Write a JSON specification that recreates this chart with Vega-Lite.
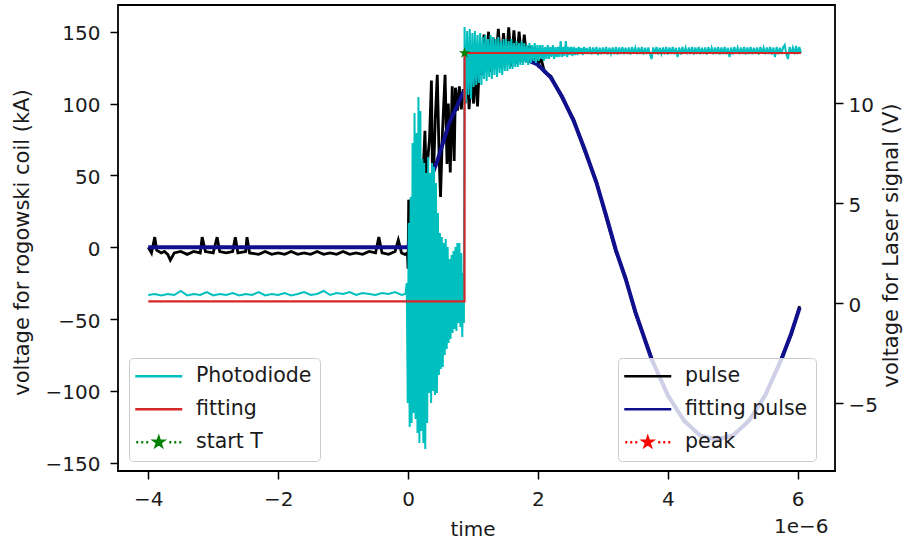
{
  "$schema": "https://vega.github.io/schema/vega-lite/v6.json",
  "width": 717,
  "height": 466,
  "autosize": {"type": "none"},
  "padding": {"left": 118, "top": 5, "right": 74, "bottom": 70},
  "background": "white",
  "config": {
    "font": "DejaVu Sans",
    "view": {"stroke": "#000000", "strokeWidth": 1.8},
    "axis": {"grid": false, "domain": false, "tickColor": "#000000", "tickWidth": 1.5, "tickSize": 8, "labelFontSize": 20, "labelColor": "#1a1a1a", "labelFont": "DejaVu Sans", "titleFont": "DejaVu Sans", "titleFontSize": 21, "titleFontWeight": "normal", "titleColor": "#1a1a1a", "labelOverlap": false, "labelFlush": false, "labelBound": false},
    "legend": {"orient": "none", "padding": 8, "rowPadding": 12, "symbolOffset": 11.5, "labelOffset": 27, "fillColor": "rgba(255,255,255,0.8)", "strokeColor": "#cccccc", "cornerRadius": 4, "labelFontSize": 20.5, "labelFont": "DejaVu Sans", "labelColor": "#1a1a1a", "symbolSize": 100, "symbolStrokeWidth": 2.5, "symbolOpacity": 1, "labelLimit": 300}
  },
  "datasets": {
    "pu": [
      {"t":-4.0,"v":0,"s":"pulse"},{"t":-3.95,"v":-4,"s":"pulse"},{"t":-3.9,"v":7,"s":"pulse"},{"t":-3.87,"v":-2,"s":"pulse"},{"t":-3.8,"v":-4,"s":"pulse"},{"t":-3.75,"v":-3,"s":"pulse"},{"t":-3.7,"v":-5,"s":"pulse"},{"t":-3.66,"v":-9,"s":"pulse"},{"t":-3.6,"v":-4,"s":"pulse"},{"t":-3.5,"v":-3,"s":"pulse"},{"t":-3.4,"v":-5,"s":"pulse"},{"t":-3.3,"v":-3,"s":"pulse"},{"t":-3.2,"v":-4,"s":"pulse"},{"t":-3.17,"v":7,"s":"pulse"},{"t":-3.12,"v":-3,"s":"pulse"},{"t":-3.0,"v":-4,"s":"pulse"},{"t":-2.94,"v":7,"s":"pulse"},{"t":-2.9,"v":-3,"s":"pulse"},{"t":-2.8,"v":-4,"s":"pulse"},{"t":-2.7,"v":-3,"s":"pulse"},{"t":-2.66,"v":7,"s":"pulse"},{"t":-2.62,"v":-4,"s":"pulse"},{"t":-2.5,"v":-3,"s":"pulse"},{"t":-2.48,"v":7,"s":"pulse"},{"t":-2.44,"v":-4,"s":"pulse"},{"t":-2.3,"v":-5,"s":"pulse"},{"t":-2.2,"v":-3,"s":"pulse"},{"t":-2.1,"v":-5,"s":"pulse"},{"t":-2.0,"v":-4,"s":"pulse"},{"t":-1.9,"v":-5,"s":"pulse"},{"t":-1.8,"v":-3,"s":"pulse"},{"t":-1.7,"v":-5,"s":"pulse"},{"t":-1.6,"v":-4,"s":"pulse"},{"t":-1.5,"v":-5,"s":"pulse"},{"t":-1.4,"v":-3,"s":"pulse"},{"t":-1.3,"v":-5,"s":"pulse"},{"t":-1.2,"v":-4,"s":"pulse"},{"t":-1.1,"v":-5,"s":"pulse"},{"t":-1.0,"v":-3,"s":"pulse"},{"t":-0.9,"v":-5,"s":"pulse"},{"t":-0.8,"v":-4,"s":"pulse"},{"t":-0.7,"v":-5,"s":"pulse"},{"t":-0.6,"v":-3,"s":"pulse"},{"t":-0.5,"v":-4,"s":"pulse"},{"t":-0.45,"v":7,"s":"pulse"},{"t":-0.4,"v":-4,"s":"pulse"},{"t":-0.3,"v":-5,"s":"pulse"},{"t":-0.2,"v":-3,"s":"pulse"},{"t":-0.15,"v":5,"s":"pulse"},{"t":-0.1,"v":-4,"s":"pulse"},{"t":-0.05,"v":-5,"s":"pulse"},{"t":-0.01,"v":-4,"s":"pulse"},
      {"t":0.0,"v":-15,"s":"pulse"},{"t":0.01,"v":33,"s":"pulse"},{"t":0.03,"v":30,"s":"pulse"},{"t":0.06,"v":25,"s":"pulse"},{"t":0.1,"v":45,"s":"pulse"},{"t":0.14,"v":30,"s":"pulse"},{"t":0.18,"v":60,"s":"pulse"},{"t":0.22,"v":40,"s":"pulse"},{"t":0.26,"v":81,"s":"pulse"},{"t":0.28,"v":49,"s":"pulse"},{"t":0.33,"v":75,"s":"pulse"},{"t":0.36,"v":116,"s":"pulse"},{"t":0.38,"v":33,"s":"pulse"},{"t":0.42,"v":90,"s":"pulse"},{"t":0.45,"v":120,"s":"pulse"},{"t":0.48,"v":60,"s":"pulse"},{"t":0.5,"v":35,"s":"pulse"},{"t":0.53,"v":80,"s":"pulse"},{"t":0.57,"v":120,"s":"pulse"},{"t":0.6,"v":58,"s":"pulse"},{"t":0.62,"v":100,"s":"pulse"},{"t":0.65,"v":52,"s":"pulse"},{"t":0.68,"v":112,"s":"pulse"},{"t":0.71,"v":60,"s":"pulse"},{"t":0.73,"v":111,"s":"pulse"},{"t":0.76,"v":95,"s":"pulse"},{"t":0.79,"v":112,"s":"pulse"},{"t":0.82,"v":96,"s":"pulse"},{"t":0.85,"v":110,"s":"pulse"},{"t":0.88,"v":100,"s":"pulse"},{"t":0.91,"v":124,"s":"pulse"},{"t":0.94,"v":96,"s":"pulse"},{"t":0.97,"v":120,"s":"pulse"},{"t":1.01,"v":100,"s":"pulse"},{"t":1.04,"v":126,"s":"pulse"},{"t":1.07,"v":98,"s":"pulse"},{"t":1.1,"v":130,"s":"pulse"},{"t":1.13,"v":120,"s":"pulse"},{"t":1.17,"v":148,"s":"pulse"},{"t":1.2,"v":125,"s":"pulse"},{"t":1.24,"v":150,"s":"pulse"},{"t":1.27,"v":122,"s":"pulse"},{"t":1.31,"v":146,"s":"pulse"},{"t":1.35,"v":128,"s":"pulse"},{"t":1.39,"v":152,"s":"pulse"},{"t":1.43,"v":125,"s":"pulse"},{"t":1.47,"v":149,"s":"pulse"},{"t":1.51,"v":127,"s":"pulse"},{"t":1.55,"v":153,"s":"pulse"},{"t":1.59,"v":126,"s":"pulse"},{"t":1.63,"v":151,"s":"pulse"},{"t":1.67,"v":128,"s":"pulse"},{"t":1.71,"v":150,"s":"pulse"},{"t":1.75,"v":129,"s":"pulse"},{"t":1.79,"v":148,"s":"pulse"},{"t":1.83,"v":130,"s":"pulse"},{"t":1.87,"v":140,"s":"pulse"},{"t":1.91,"v":128,"s":"pulse"},{"t":1.95,"v":134,"s":"pulse"},{"t":2.0,"v":127,"s":"pulse"},{"t":2.05,"v":131,"s":"pulse"},{"t":2.1,"v":122,"s":"pulse"},
      {"t":2.2,"v":119,"s":"pulse"},{"t":2.37,"v":104,"s":"pulse"},{"t":2.55,"v":89,"s":"pulse"},{"t":2.72,"v":67,"s":"pulse"},{"t":2.9,"v":46,"s":"pulse"},{"t":3.05,"v":21,"s":"pulse"},{"t":3.2,"v":-3,"s":"pulse"},{"t":3.35,"v":-21,"s":"pulse"},{"t":3.5,"v":-46,"s":"pulse"},{"t":3.75,"v":-77,"s":"pulse"},{"t":4.0,"v":-104,"s":"pulse"},{"t":4.25,"v":-120,"s":"pulse"},{"t":4.5,"v":-132,"s":"pulse"},{"t":4.75,"v":-133,"s":"pulse"},{"t":5.0,"v":-132,"s":"pulse"},{"t":5.25,"v":-120,"s":"pulse"},{"t":5.5,"v":-104,"s":"pulse"},{"t":5.75,"v":-77,"s":"pulse"},{"t":5.9,"v":-61,"s":"pulse"},{"t":6.03,"v":-41,"s":"pulse"}
    ],
    "fp": [
      {"t":-4,"v":0,"s":"fitting pulse"},{"t":0,"v":0,"s":"fitting pulse"},{"t":0.1,"v":15,"s":"fitting pulse"},{"t":0.2,"v":29,"s":"fitting pulse"},{"t":0.3,"v":42,"s":"fitting pulse"},{"t":0.45,"v":60,"s":"fitting pulse"},{"t":0.63,"v":86,"s":"fitting pulse"},{"t":0.83,"v":106,"s":"fitting pulse"},{"t":1.0,"v":117,"s":"fitting pulse"},{"t":1.2,"v":125,"s":"fitting pulse"},{"t":1.4,"v":130,"s":"fitting pulse"},{"t":1.6,"v":132,"s":"fitting pulse"},{"t":1.8,"v":131,"s":"fitting pulse"},{"t":2.0,"v":127,"s":"fitting pulse"},{"t":2.2,"v":118,"s":"fitting pulse"},{"t":2.37,"v":105,"s":"fitting pulse"},{"t":2.55,"v":88,"s":"fitting pulse"},{"t":2.72,"v":68,"s":"fitting pulse"},{"t":2.9,"v":45,"s":"fitting pulse"},{"t":3.05,"v":22,"s":"fitting pulse"},{"t":3.2,"v":-2,"s":"fitting pulse"},{"t":3.35,"v":-22,"s":"fitting pulse"},{"t":3.5,"v":-45,"s":"fitting pulse"},{"t":3.75,"v":-78,"s":"fitting pulse"},{"t":4.0,"v":-103,"s":"fitting pulse"},{"t":4.25,"v":-121,"s":"fitting pulse"},{"t":4.5,"v":-131,"s":"fitting pulse"},{"t":4.75,"v":-134,"s":"fitting pulse"},{"t":5.0,"v":-131,"s":"fitting pulse"},{"t":5.25,"v":-121,"s":"fitting pulse"},{"t":5.5,"v":-103,"s":"fitting pulse"},{"t":5.75,"v":-78,"s":"fitting pulse"},{"t":5.9,"v":-60,"s":"fitting pulse"},{"t":6.03,"v":-42,"s":"fitting pulse"}
    ],
    "pk": [{"t":1.6,"v":132,"s":"peak"}],
    "pd": [
      {"t":-4.0,"v":0.4,"s":"Photodiode"},{"t":-3.9,"v":0.45,"s":"Photodiode"},{"t":-3.8,"v":0.38,"s":"Photodiode"},{"t":-3.7,"v":0.45,"s":"Photodiode"},{"t":-3.6,"v":0.4,"s":"Photodiode"},{"t":-3.5,"v":0.6,"s":"Photodiode"},{"t":-3.4,"v":0.38,"s":"Photodiode"},{"t":-3.3,"v":0.45,"s":"Photodiode"},{"t":-3.2,"v":0.4,"s":"Photodiode"},{"t":-3.1,"v":0.55,"s":"Photodiode"},{"t":-3.0,"v":0.38,"s":"Photodiode"},{"t":-2.9,"v":0.45,"s":"Photodiode"},{"t":-2.8,"v":0.4,"s":"Photodiode"},{"t":-2.7,"v":0.5,"s":"Photodiode"},{"t":-2.6,"v":0.38,"s":"Photodiode"},{"t":-2.5,"v":0.45,"s":"Photodiode"},{"t":-2.4,"v":0.4,"s":"Photodiode"},{"t":-2.3,"v":0.55,"s":"Photodiode"},{"t":-2.2,"v":0.38,"s":"Photodiode"},{"t":-2.1,"v":0.45,"s":"Photodiode"},{"t":-2.0,"v":0.4,"s":"Photodiode"},{"t":-1.9,"v":0.5,"s":"Photodiode"},{"t":-1.8,"v":0.38,"s":"Photodiode"},{"t":-1.7,"v":0.45,"s":"Photodiode"},{"t":-1.6,"v":0.55,"s":"Photodiode"},{"t":-1.5,"v":0.4,"s":"Photodiode"},{"t":-1.4,"v":0.45,"s":"Photodiode"},{"t":-1.3,"v":0.6,"s":"Photodiode"},{"t":-1.2,"v":0.4,"s":"Photodiode"},{"t":-1.1,"v":0.5,"s":"Photodiode"},{"t":-1.0,"v":0.45,"s":"Photodiode"},{"t":-0.9,"v":0.55,"s":"Photodiode"},{"t":-0.8,"v":0.4,"s":"Photodiode"},{"t":-0.7,"v":0.5,"s":"Photodiode"},{"t":-0.6,"v":0.45,"s":"Photodiode"},{"t":-0.5,"v":0.4,"s":"Photodiode"},{"t":-0.4,"v":0.5,"s":"Photodiode"},{"t":-0.3,"v":0.45,"s":"Photodiode"},{"t":-0.2,"v":0.55,"s":"Photodiode"},{"t":-0.1,"v":0.4,"s":"Photodiode"},{"t":-0.04,"v":0.45,"s":"Photodiode"},
      {"t":-0.02,"v":1.0,"s":"Photodiode"},{"t":-0.005,"v":-5.0,"s":"Photodiode"},{"t":0.01,"v":4.0,"s":"Photodiode"},{"t":0.025,"v":-6.2,"s":"Photodiode"},{"t":0.04,"v":5.3,"s":"Photodiode"},{"t":0.055,"v":-6.0,"s":"Photodiode"},{"t":0.07,"v":8.0,"s":"Photodiode"},{"t":0.085,"v":-5.5,"s":"Photodiode"},{"t":0.1,"v":9.5,"s":"Photodiode"},{"t":0.115,"v":-5.8,"s":"Photodiode"},{"t":0.13,"v":8.5,"s":"Photodiode"},{"t":0.145,"v":-6.5,"s":"Photodiode"},{"t":0.16,"v":10.3,"s":"Photodiode"},{"t":0.175,"v":-7.0,"s":"Photodiode"},{"t":0.19,"v":9.6,"s":"Photodiode"},{"t":0.205,"v":-6.4,"s":"Photodiode"},{"t":0.22,"v":7.2,"s":"Photodiode"},{"t":0.235,"v":-7.0,"s":"Photodiode"},{"t":0.25,"v":7.0,"s":"Photodiode"},{"t":0.265,"v":-7.3,"s":"Photodiode"},{"t":0.28,"v":6.5,"s":"Photodiode"},{"t":0.295,"v":-6.0,"s":"Photodiode"},{"t":0.31,"v":7.3,"s":"Photodiode"},{"t":0.325,"v":-4.5,"s":"Photodiode"},{"t":0.34,"v":6.5,"s":"Photodiode"},{"t":0.355,"v":-5.0,"s":"Photodiode"},{"t":0.37,"v":7.0,"s":"Photodiode"},{"t":0.385,"v":-4.4,"s":"Photodiode"},{"t":0.4,"v":6.8,"s":"Photodiode"},{"t":0.415,"v":-4.6,"s":"Photodiode"},{"t":0.43,"v":6.0,"s":"Photodiode"},{"t":0.445,"v":-4.5,"s":"Photodiode"},{"t":0.46,"v":4.5,"s":"Photodiode"},{"t":0.475,"v":-3.6,"s":"Photodiode"},{"t":0.49,"v":3.5,"s":"Photodiode"},{"t":0.505,"v":-3.3,"s":"Photodiode"},{"t":0.52,"v":3.3,"s":"Photodiode"},{"t":0.535,"v":-3.2,"s":"Photodiode"},{"t":0.55,"v":3.0,"s":"Photodiode"},{"t":0.565,"v":-2.6,"s":"Photodiode"},{"t":0.58,"v":3.2,"s":"Photodiode"},{"t":0.595,"v":-2.3,"s":"Photodiode"},{"t":0.61,"v":2.8,"s":"Photodiode"},{"t":0.625,"v":-2.0,"s":"Photodiode"},{"t":0.64,"v":2.2,"s":"Photodiode"},{"t":0.655,"v":-1.8,"s":"Photodiode"},{"t":0.67,"v":2.4,"s":"Photodiode"},{"t":0.685,"v":-1.5,"s":"Photodiode"},{"t":0.7,"v":2.6,"s":"Photodiode"},{"t":0.715,"v":-1.3,"s":"Photodiode"},{"t":0.73,"v":2.8,"s":"Photodiode"},{"t":0.745,"v":-1.4,"s":"Photodiode"},{"t":0.76,"v":3.0,"s":"Photodiode"},{"t":0.775,"v":-1.0,"s":"Photodiode"},{"t":0.79,"v":3.0,"s":"Photodiode"},{"t":0.805,"v":-1.2,"s":"Photodiode"},{"t":0.82,"v":2.5,"s":"Photodiode"},{"t":0.835,"v":-1.7,"s":"Photodiode"},{"t":0.85,"v":1.5,"s":"Photodiode"},{"t":0.86,"v":-1.0,"s":"Photodiode"},
      {"t":0.87,"v":13.8,"s":"Photodiode"},{"t":0.89,"v":10.0,"s":"Photodiode"},{"t":0.91,"v":13.6,"s":"Photodiode"},{"t":0.93,"v":10.4,"s":"Photodiode"},{"t":0.95,"v":13.7,"s":"Photodiode"},{"t":0.97,"v":10.2,"s":"Photodiode"},{"t":0.99,"v":13.5,"s":"Photodiode"},{"t":1.01,"v":10.8,"s":"Photodiode"},{"t":1.03,"v":13.6,"s":"Photodiode"},{"t":1.05,"v":10.9,"s":"Photodiode"},{"t":1.07,"v":13.4,"s":"Photodiode"},{"t":1.09,"v":11.0,"s":"Photodiode"},{"t":1.11,"v":13.5,"s":"Photodiode"},{"t":1.13,"v":10.9,"s":"Photodiode"},{"t":1.15,"v":13.3,"s":"Photodiode"},{"t":1.17,"v":11.2,"s":"Photodiode"},{"t":1.19,"v":13.4,"s":"Photodiode"},{"t":1.21,"v":11.1,"s":"Photodiode"},{"t":1.23,"v":13.2,"s":"Photodiode"},{"t":1.25,"v":11.3,"s":"Photodiode"},{"t":1.27,"v":13.4,"s":"Photodiode"},{"t":1.29,"v":11.2,"s":"Photodiode"},{"t":1.31,"v":13.3,"s":"Photodiode"},{"t":1.33,"v":11.4,"s":"Photodiode"},{"t":1.35,"v":13.2,"s":"Photodiode"},{"t":1.37,"v":11.3,"s":"Photodiode"},{"t":1.39,"v":13.3,"s":"Photodiode"},{"t":1.41,"v":11.5,"s":"Photodiode"},{"t":1.43,"v":13.1,"s":"Photodiode"},{"t":1.45,"v":11.4,"s":"Photodiode"},{"t":1.47,"v":13.2,"s":"Photodiode"},{"t":1.49,"v":11.6,"s":"Photodiode"},{"t":1.51,"v":13.2,"s":"Photodiode"},{"t":1.53,"v":11.6,"s":"Photodiode"},{"t":1.55,"v":13.1,"s":"Photodiode"},{"t":1.57,"v":11.7,"s":"Photodiode"},{"t":1.59,"v":13.2,"s":"Photodiode"},{"t":1.61,"v":11.7,"s":"Photodiode"},{"t":1.63,"v":13.0,"s":"Photodiode"},{"t":1.65,"v":11.8,"s":"Photodiode"},{"t":1.67,"v":13.1,"s":"Photodiode"},{"t":1.69,"v":11.8,"s":"Photodiode"},{"t":1.71,"v":13.0,"s":"Photodiode"},{"t":1.73,"v":11.9,"s":"Photodiode"},{"t":1.75,"v":13.1,"s":"Photodiode"},{"t":1.77,"v":11.9,"s":"Photodiode"},{"t":1.79,"v":13.0,"s":"Photodiode"},{"t":1.81,"v":12.0,"s":"Photodiode"},{"t":1.83,"v":12.9,"s":"Photodiode"},{"t":1.85,"v":11.9,"s":"Photodiode"},{"t":1.87,"v":13.0,"s":"Photodiode"},{"t":1.89,"v":12.0,"s":"Photodiode"},{"t":1.91,"v":12.9,"s":"Photodiode"},{"t":1.93,"v":12.1,"s":"Photodiode"},{"t":1.95,"v":13.0,"s":"Photodiode"},{"t":1.97,"v":12.0,"s":"Photodiode"},{"t":1.99,"v":12.9,"s":"Photodiode"},{"t":2.01,"v":12.1,"s":"Photodiode"},{"t":2.03,"v":12.9,"s":"Photodiode"},{"t":2.05,"v":12.2,"s":"Photodiode"},{"t":2.07,"v":12.9,"s":"Photodiode"},{"t":2.09,"v":12.1,"s":"Photodiode"},{"t":2.11,"v":12.8,"s":"Photodiode"},{"t":2.13,"v":12.2,"s":"Photodiode"},{"t":2.15,"v":12.9,"s":"Photodiode"},{"t":2.17,"v":12.2,"s":"Photodiode"},{"t":2.19,"v":12.8,"s":"Photodiode"},{"t":2.21,"v":12.3,"s":"Photodiode"},{"t":2.23,"v":12.9,"s":"Photodiode"},{"t":2.25,"v":12.2,"s":"Photodiode"},{"t":2.27,"v":12.8,"s":"Photodiode"},{"t":2.29,"v":12.3,"s":"Photodiode"},{"t":2.31,"v":12.8,"s":"Photodiode"},{"t":2.33,"v":12.3,"s":"Photodiode"},{"t":2.35,"v":13.1,"s":"Photodiode"},{"t":2.37,"v":12.3,"s":"Photodiode"},{"t":2.39,"v":12.8,"s":"Photodiode"},{"t":2.41,"v":12.35,"s":"Photodiode"},{"t":2.43,"v":13.1,"s":"Photodiode"},{"t":2.45,"v":12.3,"s":"Photodiode"},{"t":2.47,"v":12.8,"s":"Photodiode"},{"t":2.49,"v":12.4,"s":"Photodiode"},{"t":2.51,"v":12.8,"s":"Photodiode"},{"t":2.53,"v":12.35,"s":"Photodiode"},{"t":2.55,"v":12.8,"s":"Photodiode"},{"t":2.57,"v":12.4,"s":"Photodiode"},{"t":2.59,"v":12.75,"s":"Photodiode"},{"t":2.61,"v":12.4,"s":"Photodiode"},{"t":2.63,"v":12.8,"s":"Photodiode"},{"t":2.65,"v":12.45,"s":"Photodiode"},{"t":2.67,"v":12.75,"s":"Photodiode"},{"t":2.69,"v":12.4,"s":"Photodiode"},{"t":2.71,"v":12.8,"s":"Photodiode"},{"t":2.73,"v":12.45,"s":"Photodiode"},{"t":2.75,"v":12.75,"s":"Photodiode"},{"t":2.77,"v":12.45,"s":"Photodiode"},
      {"t":2.8,"v":12.8,"s":"Photodiode"},{"t":2.825,"v":12.42,"s":"Photodiode"},{"t":2.85,"v":12.78,"s":"Photodiode"},{"t":2.875,"v":12.45,"s":"Photodiode"},{"t":2.9,"v":12.8,"s":"Photodiode"},{"t":2.925,"v":12.4,"s":"Photodiode"},{"t":2.95,"v":12.76,"s":"Photodiode"},{"t":2.975,"v":12.44,"s":"Photodiode"},{"t":3.0,"v":12.78,"s":"Photodiode"},{"t":3.025,"v":12.45,"s":"Photodiode"},{"t":3.05,"v":12.8,"s":"Photodiode"},{"t":3.075,"v":12.42,"s":"Photodiode"},{"t":3.1,"v":12.76,"s":"Photodiode"},{"t":3.125,"v":12.46,"s":"Photodiode"},{"t":3.15,"v":12.78,"s":"Photodiode"},{"t":3.175,"v":12.44,"s":"Photodiode"},{"t":3.2,"v":12.8,"s":"Photodiode"},{"t":3.225,"v":12.42,"s":"Photodiode"},{"t":3.25,"v":12.77,"s":"Photodiode"},{"t":3.275,"v":12.45,"s":"Photodiode"},{"t":3.3,"v":12.8,"s":"Photodiode"},{"t":3.325,"v":12.44,"s":"Photodiode"},{"t":3.35,"v":12.76,"s":"Photodiode"},{"t":3.375,"v":12.45,"s":"Photodiode"},{"t":3.4,"v":12.78,"s":"Photodiode"},{"t":3.425,"v":12.42,"s":"Photodiode"},{"t":3.45,"v":12.8,"s":"Photodiode"},{"t":3.475,"v":12.46,"s":"Photodiode"},{"t":3.5,"v":12.76,"s":"Photodiode"},{"t":3.525,"v":12.44,"s":"Photodiode"},{"t":3.55,"v":12.78,"s":"Photodiode"},{"t":3.575,"v":12.45,"s":"Photodiode"},{"t":3.6,"v":12.8,"s":"Photodiode"},{"t":3.625,"v":12.42,"s":"Photodiode"},{"t":3.65,"v":12.76,"s":"Photodiode"},{"t":3.675,"v":12.45,"s":"Photodiode"},{"t":3.7,"v":12.78,"s":"Photodiode"},{"t":3.725,"v":12.44,"s":"Photodiode"},{"t":3.75,"v":12.2,"s":"Photodiode"},{"t":3.775,"v":12.78,"s":"Photodiode"},{"t":3.8,"v":12.45,"s":"Photodiode"},{"t":3.825,"v":12.8,"s":"Photodiode"},{"t":3.85,"v":12.42,"s":"Photodiode"},{"t":3.875,"v":12.76,"s":"Photodiode"},{"t":3.9,"v":12.46,"s":"Photodiode"},{"t":3.925,"v":12.78,"s":"Photodiode"},{"t":3.95,"v":12.44,"s":"Photodiode"},{"t":3.975,"v":12.8,"s":"Photodiode"},{"t":4.0,"v":12.42,"s":"Photodiode"},{"t":4.025,"v":12.77,"s":"Photodiode"},{"t":4.05,"v":12.45,"s":"Photodiode"},{"t":4.075,"v":12.8,"s":"Photodiode"},{"t":4.1,"v":12.44,"s":"Photodiode"},{"t":4.125,"v":12.76,"s":"Photodiode"},{"t":4.15,"v":12.3,"s":"Photodiode"},{"t":4.175,"v":12.78,"s":"Photodiode"},{"t":4.2,"v":12.42,"s":"Photodiode"},{"t":4.225,"v":12.8,"s":"Photodiode"},{"t":4.25,"v":12.46,"s":"Photodiode"},{"t":4.275,"v":12.76,"s":"Photodiode"},{"t":4.3,"v":12.44,"s":"Photodiode"},{"t":4.325,"v":12.78,"s":"Photodiode"},{"t":4.35,"v":12.45,"s":"Photodiode"},{"t":4.375,"v":12.8,"s":"Photodiode"},{"t":4.4,"v":12.42,"s":"Photodiode"},{"t":4.425,"v":12.77,"s":"Photodiode"},{"t":4.45,"v":12.45,"s":"Photodiode"},{"t":4.475,"v":12.8,"s":"Photodiode"},{"t":4.5,"v":12.44,"s":"Photodiode"},{"t":4.525,"v":12.76,"s":"Photodiode"},{"t":4.55,"v":12.45,"s":"Photodiode"},{"t":4.575,"v":12.78,"s":"Photodiode"},{"t":4.6,"v":12.42,"s":"Photodiode"},{"t":4.625,"v":12.8,"s":"Photodiode"},{"t":4.65,"v":12.46,"s":"Photodiode"},{"t":4.675,"v":12.76,"s":"Photodiode"},{"t":4.7,"v":12.44,"s":"Photodiode"},{"t":4.725,"v":12.78,"s":"Photodiode"},{"t":4.75,"v":12.45,"s":"Photodiode"},{"t":4.775,"v":12.8,"s":"Photodiode"},{"t":4.8,"v":12.42,"s":"Photodiode"},{"t":4.825,"v":12.77,"s":"Photodiode"},{"t":4.85,"v":12.45,"s":"Photodiode"},{"t":4.875,"v":12.8,"s":"Photodiode"},{"t":4.9,"v":12.44,"s":"Photodiode"},{"t":4.925,"v":12.76,"s":"Photodiode"},{"t":4.95,"v":12.3,"s":"Photodiode"},{"t":4.975,"v":12.78,"s":"Photodiode"},{"t":5.0,"v":12.42,"s":"Photodiode"},{"t":5.025,"v":12.8,"s":"Photodiode"},{"t":5.05,"v":12.46,"s":"Photodiode"},{"t":5.075,"v":12.76,"s":"Photodiode"},{"t":5.1,"v":12.44,"s":"Photodiode"},{"t":5.125,"v":12.78,"s":"Photodiode"},{"t":5.15,"v":12.45,"s":"Photodiode"},{"t":5.175,"v":12.8,"s":"Photodiode"},{"t":5.2,"v":12.42,"s":"Photodiode"},{"t":5.225,"v":12.77,"s":"Photodiode"},{"t":5.25,"v":12.45,"s":"Photodiode"},{"t":5.275,"v":12.8,"s":"Photodiode"},{"t":5.3,"v":12.44,"s":"Photodiode"},{"t":5.325,"v":12.76,"s":"Photodiode"},{"t":5.35,"v":12.45,"s":"Photodiode"},{"t":5.375,"v":12.78,"s":"Photodiode"},{"t":5.4,"v":12.42,"s":"Photodiode"},{"t":5.425,"v":12.8,"s":"Photodiode"},{"t":5.45,"v":12.46,"s":"Photodiode"},{"t":5.475,"v":12.76,"s":"Photodiode"},{"t":5.5,"v":12.44,"s":"Photodiode"},{"t":5.525,"v":12.78,"s":"Photodiode"},{"t":5.55,"v":12.45,"s":"Photodiode"},{"t":5.575,"v":12.8,"s":"Photodiode"},{"t":5.6,"v":12.42,"s":"Photodiode"},{"t":5.625,"v":12.77,"s":"Photodiode"},{"t":5.65,"v":12.3,"s":"Photodiode"},{"t":5.675,"v":12.8,"s":"Photodiode"},{"t":5.7,"v":12.44,"s":"Photodiode"},{"t":5.725,"v":12.76,"s":"Photodiode"},{"t":5.75,"v":12.45,"s":"Photodiode"},{"t":5.775,"v":12.78,"s":"Photodiode"},{"t":5.8,"v":12.9,"s":"Photodiode"},{"t":5.825,"v":12.42,"s":"Photodiode"},{"t":5.85,"v":12.2,"s":"Photodiode"},{"t":5.875,"v":12.8,"s":"Photodiode"},{"t":5.9,"v":12.46,"s":"Photodiode"},{"t":5.925,"v":12.76,"s":"Photodiode"},{"t":5.95,"v":12.44,"s":"Photodiode"},{"t":5.975,"v":12.85,"s":"Photodiode"},{"t":6.0,"v":12.45,"s":"Photodiode"},{"t":6.025,"v":12.8,"s":"Photodiode"},{"t":6.05,"v":12.5,"s":"Photodiode"}
    ],
    "fi": [
      {"t":-4,"v":0.08,"s":"fitting"},{"t":0.869,"v":0.08,"s":"fitting"},{"t":0.871,"v":12.5,"s":"fitting"},{"t":6.05,"v":12.5,"s":"fitting"}
    ],
    "st": [{"t":0.87,"v":12.5,"s":"start T"}]
  },
  "layer": [
    {
      "encoding": {
        "x": {"field": "t", "type": "quantitative", "scale": {"domain": [-4.466, 6.574], "nice": false, "zero": false},
              "axis": {"orient": "bottom", "values": [-4, -2, 0, 2, 4, 6], "format": "d", "labelPadding": 10, "title": "time", "titleFontSize": 20, "titleX": 354.5, "titleY": 64, "titleAlign": "center", "titleBaseline": "alphabetic", "titleAngle": 0}},
        "y": {"field": "v", "type": "quantitative", "scale": {"domain": [-155.8, 168.6], "nice": false, "zero": false},
              "axis": {"orient": "left", "values": [-150, -100, -50, 0, 50, 100, 150], "format": "d", "labelPadding": 10, "labelOffset": 2, "title": "voltage for rogowski coil (kA)", "titleAngle": 270, "titleX": -90, "titleY": 237, "titleAlign": "center", "titleBaseline": "alphabetic"}},
        "color": {"field": "s", "type": "nominal",
                  "scale": {"domain": ["pulse", "fitting pulse", "peak"], "range": ["#000000", "#10108e", "#ff0000"]},
                  "legend": {"title": null, "legendX": 500, "legendY": 353}}
      },
      "layer": [
        {"data": {"name": "pu"}, "mark": {"type": "line", "strokeWidth": 2.8}},
        {"data": {"name": "fp"}, "mark": {"type": "line", "strokeWidth": 4}},
        {"data": {"name": "pk"}, "mark": {"type": "point", "filled": true, "opacity": 1, "size": 140, "shape": "M0,-1L0.225,-0.309L0.951,-0.309L0.363,0.118L0.588,0.809L0,0.382L-0.588,0.809L-0.363,0.118L-0.951,-0.309L-0.225,-0.309Z"}},
        {"data": {"name": "pk"}, "mark": {"type": "point", "filled": true, "opacity": 0},
         "encoding": {"shape": {"field": "s", "type": "nominal",
           "scale": {"domain": ["pulse", "fitting pulse", "peak"], "range": ["M-4.7,0H4.7", "M-4.7,0H4.7", "M-4.5,0H-4.1M-3.5,0H-3.1M-2.5,0H-2.1M2.1,0H2.5M3.1,0H3.5M4.1,0H4.5M0,-0.95L0.213,-0.294L0.904,-0.294L0.345,0.112L0.558,0.769L0,0.363L-0.558,0.769L-0.345,0.112L-0.904,-0.294L-0.213,-0.294Z"]},
           "legend": {"title": null, "legendX": 500, "legendY": 353}}}}
      ]
    },
    {
      "encoding": {
        "x": {"field": "t", "type": "quantitative", "scale": {"domain": [-4.466, 6.574], "nice": false, "zero": false},
              "axis": {"orient": "bottom", "labels": false, "ticks": false, "domain": false, "title": "1e\u22126", "titleFontSize": 20, "titleX": 710, "titleY": 61.5, "titleAlign": "right", "titleBaseline": "alphabetic", "titleAngle": 0}},
        "y": {"field": "v", "type": "quantitative", "scale": {"domain": [-8.4, 14.9], "nice": false, "zero": false},
              "axis": {"orient": "right", "values": [-5, 0, 5, 10], "format": "d", "labelPadding": 5, "labelOffset": 2, "title": "voltage for Laser signal (V)", "titleAngle": 270, "titleX": 62, "titleY": 240, "titleAlign": "center", "titleBaseline": "alphabetic"}},
        "color": {"field": "s", "type": "nominal",
                  "scale": {"domain": ["Photodiode", "fitting", "start T"], "range": ["#00bfbf", "#d62728", "#008000"]},
                  "legend": {"title": null, "legendX": 11, "legendY": 353}}
      },
      "layer": [
        {"data": {"name": "pd"}, "mark": {"type": "line", "strokeWidth": 2}},
        {"data": {"name": "fi"}, "mark": {"type": "line", "strokeWidth": 2.2}},
        {"data": {"name": "st"}, "mark": {"type": "point", "filled": true, "opacity": 1, "size": 140, "shape": "M0,-1L0.225,-0.309L0.951,-0.309L0.363,0.118L0.588,0.809L0,0.382L-0.588,0.809L-0.363,0.118L-0.951,-0.309L-0.225,-0.309Z"}},
        {"data": {"name": "st"}, "mark": {"type": "point", "filled": true, "opacity": 0},
         "encoding": {"shape": {"field": "s", "type": "nominal",
           "scale": {"domain": ["Photodiode", "fitting", "start T"], "range": ["M-4.7,0H4.7", "M-4.7,0H4.7", "M-4.5,0H-4.1M-3.5,0H-3.1M-2.5,0H-2.1M2.1,0H2.5M3.1,0H3.5M4.1,0H4.5M0,-0.95L0.213,-0.294L0.904,-0.294L0.345,0.112L0.558,0.769L0,0.363L-0.558,0.769L-0.345,0.112L-0.904,-0.294L-0.213,-0.294Z"]},
           "legend": {"title": null, "legendX": 11, "legendY": 353}}}}
      ]
    }
  ],
  "resolve": {"scale": {"y": "independent", "color": "independent", "shape": "independent"}, "axis": {"x": "independent", "y": "independent"}}
}
